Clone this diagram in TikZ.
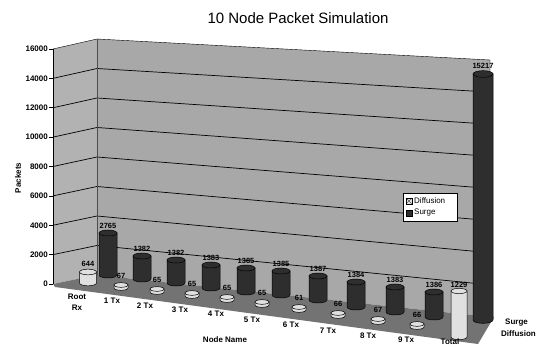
\documentclass[tikz,border=0pt]{standalone}
\usepackage{fontspec}
\setmainfont{Liberation Sans}
\tikzset{
  wallfill/.style={fill=black!34},
  sidefill/.style={fill=black!30},
  floorfill/.style={fill=black!55},
  gridline/.style={draw=black, line width=0.7pt},
  axislabel/.style={font=\bfseries\fontsize{8}{9}\selectfont, inner sep=0pt},
  catlabel/.style={font=\bfseries\fontsize{8}{9}\selectfont, inner sep=0pt},
  vallabel/.style={font=\bfseries\fontsize{7.5}{8}\selectfont, inner sep=0pt},
  surgecol/.style={fill=black!82},
  diffcol/.style={fill=black!12},
}
\newcommand\mycyl[5]{% cx, yb, h, w, style
  \path[draw=black, line width=0.5pt, #5] ({#1-#4/2},{#2-#3}) -- ({#1-#4/2},{#2})
     arc[start angle=180, end angle=360, x radius={#4/2*1pt}, y radius={#4/6*1pt}]
     -- ({#1+#4/2},{#2-#3}) -- cycle;
  \path[draw=black, line width=0.5pt, #5] (#1,{#2-#3}) ellipse [x radius={#4/2*1pt}, y radius={#4/6*1pt}];
}
\begin{document}
\begin{tikzpicture}[x=1pt,y=-1pt]
\useasboundingbox[fill=white] (0,0) rectangle (541,347);
% title
\node[font=\fontsize{15}{17}\selectfont] (title) at (298,18) {10 Node Packet Simulation};
% walls
\path[sidefill] (53,49) -- (97,39) -- (97,275) -- (53,284) -- cycle;
\path[wallfill] (97,39) -- (490,60) -- (490,317) -- (97,275) -- cycle;
% floor
\path[floorfill] (53,284) -- (97,275) -- (490,317) -- (494,317) -- (478,344) -- (55,287) -- cycle;
% grid lines
\foreach \v in {2000,4000,...,14000}{
  \draw[gridline] (53,{284-\v/16000*235}) -- (97,{275-\v/16000*236}) -- (490,{317-\v/16000*257});
}
\draw[black, line width=0.4pt] (53,49) -- (97,39) -- (490,60) -- (490,317);
\draw[black!70, line width=0.4pt] (97,39) -- (97,275);
% y axis
\draw[line width=1pt] (53,49) -- (53,284);
\foreach \v/\t in {0/0,2000/2000,4000/4000,6000/6000,8000/8000,10000/10000,12000/12000,14000/14000,16000/16000}{
  \draw[line width=0.6pt] (49,{284-\v/16000*235}) -- (53,{284-\v/16000*235});
  \node[axislabel, anchor=east] (y\v) at (48,{284-\v/16000*235}) {\t};
}
\node[axislabel, rotate=90] (ylab) at (18,178) {Packets};
% surge bars (back row)
\foreach \cx/\yb/\h/\t [count=\i] in {108/275/42/2765,142/279/23/1382,176/283/23/1382,211/288/23/1383,246/292/24/1385,281/295/24/1385,318/300/24/1387,356/307/25/1384,395/312/25/1383,434/317/25/1386}{
  \mycyl{\cx}{\yb}{\h}{18}{surgecol}
  \node[vallabel] (s\i) at (\cx,{\yb-\h-7}) {\t};
}
\mycyl{483}{320}{246}{20}{surgecol}
\node[vallabel] (stotal) at (483,66) {15217};
% diffusion bars (front row)
\mycyl{88}{283}{11}{17}{diffcol}
\node[vallabel] (d0) at (88,264) {644};
\foreach \cx/\yb/\t [count=\i] in {121/288/67,157/292/65,192/296/65,227/300/65,262/305/65,299/310/61,338/316/66,378/322/67,417/327/66}{
  \mycyl{\cx}{\yb}{3}{14}{diffcol}
  \node[vallabel] (d\i) at (\cx,{\yb-12}) {\t};
}
\mycyl{459}{337}{46}{16}{diffcol}
\node[vallabel] (dtotal) at (459,285) {1229};
% category labels
\node[catlabel, align=center] (c0) at (77,302) {Root\\[2pt]Rx};
\foreach \x/\y/\t [count=\i] in {112/301/1 Tx,145/306/2 Tx,180/310/3 Tx,216/314/4 Tx,252/320/5 Tx,291/325/6 Tx,328/331/7 Tx,368/336/8 Tx,406/340/9 Tx,450/342/Total}{
  \node[catlabel] (c\i) at (\x,\y) {\t};
}
\node[catlabel] (xlab) at (225,340) {Node Name};
\node[catlabel, anchor=west] (zsurge) at (505,323) {Surge};
\node[catlabel, anchor=west] (zdiff) at (501,334) {Diffusion};
% legend
\draw[fill=white, line width=0.5pt] (403,193) rectangle (457,221);
\draw[diffcol, line width=0.4pt] (406,198) rectangle (412,204);
\draw[black, line width=0.3pt] (406,198) -- (412,204) (412,198) -- (406,204);
\node[font=\fontsize{8}{9}\selectfont, anchor=west, inner sep=0pt] (legd) at (414,201) {Diffusion};
\draw[surgecol, line width=0.4pt] (406,210) rectangle (412,216);
\node[font=\fontsize{8}{9}\selectfont, anchor=west, inner sep=0pt] (legs) at (414,213) {Surge};
\end{tikzpicture}
\end{document}
